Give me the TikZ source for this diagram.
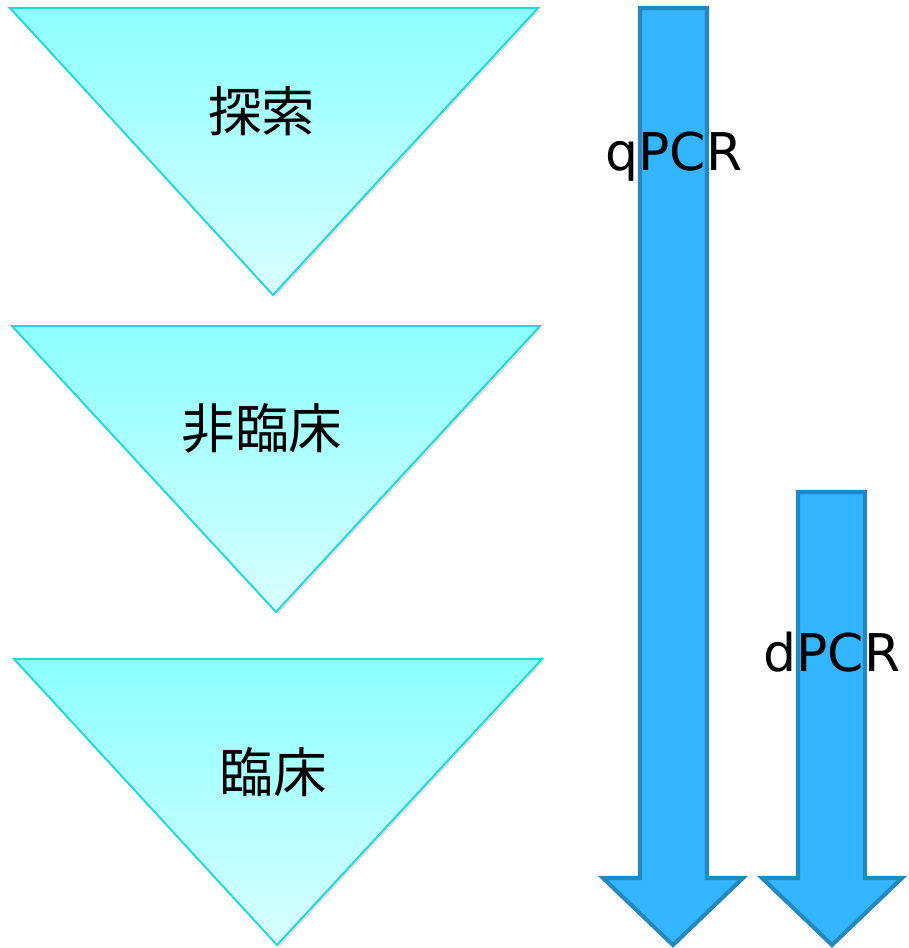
\documentclass[tikz,border=0pt]{standalone}
\usepackage{fontspec}
\newfontfamily\cjk{Noto Sans CJK JP}
\newfontfamily\lat{DejaVu Sans}
\usetikzlibrary{shadows}
\definecolor{triedge}{HTML}{22D8D8}
\definecolor{tritop}{HTML}{8CFFFF}
\definecolor{tribot}{HTML}{D8FFFF}
\definecolor{arrfill}{HTML}{33B5FF}
\definecolor{arredge}{HTML}{2488BE}
\tikzset{
  tri/.style={draw=triedge, line width=1.1pt, top color=tritop, bottom color=tribot, line join=miter,
    drop shadow={opacity=0.25, shadow xshift=1.2pt, shadow yshift=-1.2pt}},
  bigarrow/.style={draw=arredge, fill=arrfill, line width=2.3pt, line join=miter},
  lbl/.style={font=\cjk\fontsize{30.5}{36}\selectfont, inner sep=0pt},
  alb/.style={font=\lat\fontsize{29.6}{34}\selectfont, inner sep=0pt}
}
\begin{document}
\begin{tikzpicture}[x=0.02cm, y=-0.02cm]
\useasboundingbox (0,0) rectangle (909,948);
% triangles
\path[tri] (10,8) -- (538,8) -- (273,295) -- cycle;
\path[tri] (12,326) -- (540,326) -- (276,612) -- cycle;
\path[tri] (14,659) -- (542,659) -- (277,945) -- cycle;
\node[lbl] (t1) at (262,111) {探索};
\node[lbl] (t2) at (262,428) {非臨床};
\node[lbl] (t3) at (273,772) {臨床};
% arrows
\path[bigarrow] (640,8) -- (707,8) -- (707,878) -- (743,878) -- (673,945) -- (603,878) -- (640,878) -- cycle;
\path[bigarrow] (798,492) -- (865,492) -- (865,878) -- (902,878) -- (832,945) -- (762,878) -- (798,878) -- cycle;
\node[alb] (q) at (674,157) {qPCR};
\node[alb] (d) at (832,652) {dPCR};
\end{tikzpicture}
\end{document}
